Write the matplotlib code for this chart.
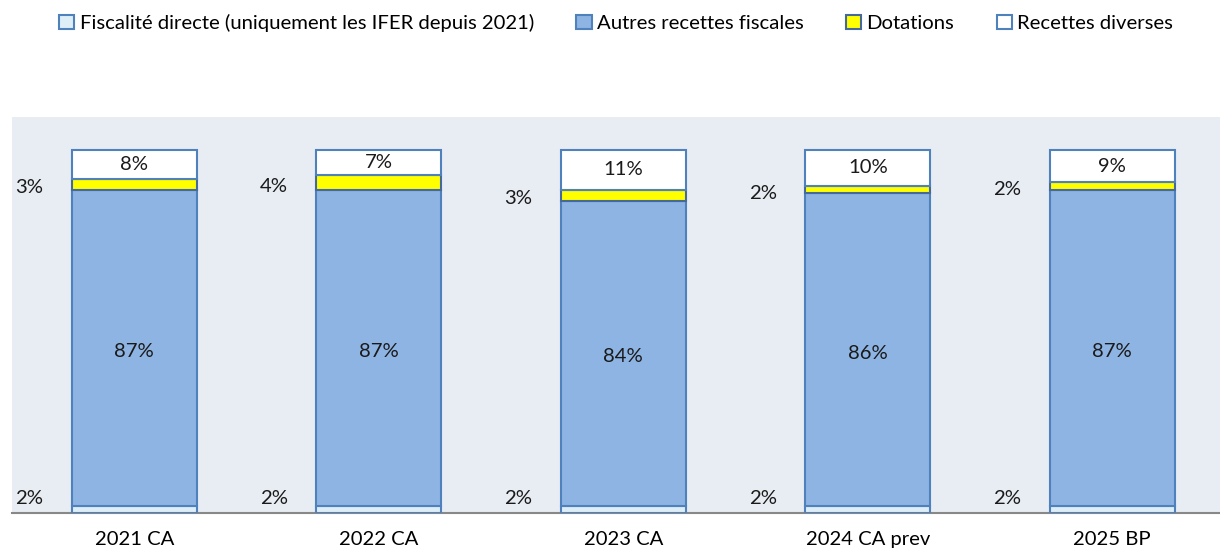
import matplotlib
matplotlib.use('Agg')
from matplotlib import pyplot as plt
from matplotlib.patches import Patch
import numpy as np

categories = ["2021 CA", "2022 CA", "2023 CA", "2024 CA prev", "2025 BP"]
fiscalite_directe = [2, 2, 2, 2, 2]
autres_recettes = [87, 87, 84, 86, 87]
dotations = [3, 4, 3, 2, 2]
recettes_diverses = [8, 7, 11, 10, 9]

series_names = ["Fiscalité directe (uniquement les IFER depuis 2021)",
                "Autres recettes fiscales", "Dotations", "Recettes diverses"]
fills = ["#DEEEF7", "#8EB4E3", "#FFFF00", "#FFFFFF"]
edges = ["#4F81BD", "#4F81BD", "#44699A", "#4F81BD"]

plt.rcParams['font.family'] = ['Lato', 'DejaVu Sans']

fig = plt.figure(figsize=(12.2, 5.51), dpi=100)
ax = fig.add_axes([12 / 1220, 1 - 513 / 551, 1 - 12 / 1220, 396 / 551])
ax.set_facecolor("#E8ECF3")

x = np.arange(len(categories))
width = 0.51
bottom = np.zeros(len(categories))
data = [fiscalite_directe, autres_recettes, dotations, recettes_diverses]
for vals, fc, ec in zip(data, fills, edges):
    v = np.array(vals) / 100.0
    ax.bar(x, v, width, bottom=bottom, color=fc, edgecolor=ec, linewidth=1.5, zorder=3)
    bottom += v

fs = 14.6
for i in range(len(categories)):
    b0 = fiscalite_directe[i] / 100.0
    b1 = b0 + autres_recettes[i] / 100.0
    b2 = b1 + dotations[i] / 100.0
    b3 = b2 + recettes_diverses[i] / 100.0
    ax.text(x[i], (b0 + b1) / 2 - 0.01, "%d%%" % autres_recettes[i], ha="center", va="center", fontsize=fs, color="#1a1a1a", zorder=4)
    ax.text(x[i], (b2 + b3) / 2, "%d%%" % recettes_diverses[i], ha="center", va="center", fontsize=fs, color="#1a1a1a", zorder=4)
    ax.text(x[i] - 0.43, (b1 + b2) / 2 - 0.01, "%d%%" % dotations[i], ha="center", va="center", fontsize=fs, color="#1a1a1a", zorder=4)
    ax.text(x[i] - 0.43, 0.04, "%d%%" % fiscalite_directe[i], ha="center", va="center", fontsize=fs, color="#1a1a1a", zorder=4)

ax.set_xlim(-0.5, -0.5 + (1220 - 12) / 244.5)
ax.set_ylim(0, 1.09)
ax.set_yticks([])
ax.set_xticks(x)
ax.set_xticklabels(categories, fontsize=fs)
ax.tick_params(axis="x", length=0, pad=13)
for s in ["top", "right", "left"]:
    ax.spines[s].set_visible(False)
ax.spines["bottom"].set_color("#888888")
ax.spines["bottom"].set_linewidth(1.5)

handles = [Patch(facecolor=fc, edgecolor=ec, linewidth=1.5) for fc, ec in zip(fills, edges)]
fig.legend(handles, series_names, loc="center", bbox_to_anchor=(616 / 1220, 1 - 23 / 551),
           ncol=4, frameon=False, fontsize=fs, handlelength=0.75, handleheight=0.75,
           handletextpad=0.25, columnspacing=2.1)

fig.savefig("out.png", dpi=100, facecolor="w")
plt.close()
